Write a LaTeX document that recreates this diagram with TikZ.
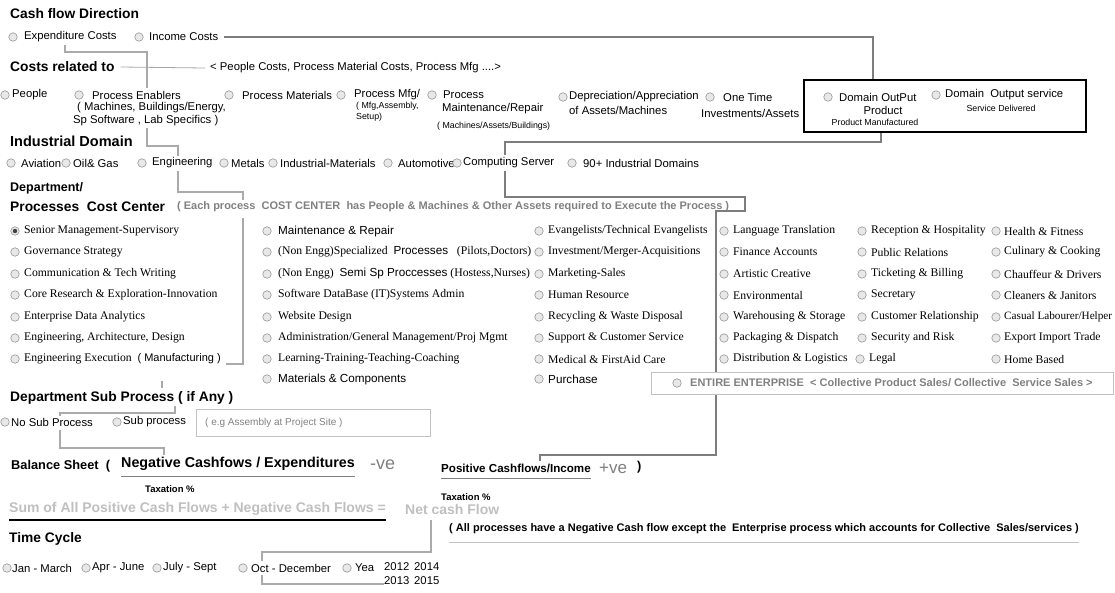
\documentclass[tikz,border=0pt]{standalone}
\usepackage{fontspec}
\setmainfont{Liberation Serif}
\setsansfont{Liberation Sans}
\usepackage{tikz}
\usetikzlibrary{backgrounds}
\definecolor{frmgray}{RGB}{128,128,128}
\definecolor{linkgray}{RGB}{170,170,170}
\definecolor{linkdark}{RGB}{125,125,125}
\definecolor{faintgray}{RGB}{195,195,195}
\definecolor{radiofill}{RGB}{232,232,232}
\definecolor{radioedge}{RGB}{150,150,150}

\begin{document}
\begin{tikzpicture}[x=1pt, y=-1pt,
  hd/.style={font=\sffamily\bfseries\fontsize{13.8}{16}\selectfont, anchor=west, inner sep=0pt},
  lbl/.style={font=\sffamily\fontsize{11.3}{13}\selectfont, anchor=west, inner sep=0pt},
  sub/.style={font=\sffamily\fontsize{8.8}{10}\selectfont, anchor=west, inner sep=0pt},
  dept/.style={font=\rmfamily\fontsize{11.7}{13}\selectfont, anchor=west, inner sep=0pt},
  note/.style={font=\sffamily\bfseries\fontsize{11}{13}\selectfont, text=frmgray, anchor=west, inner sep=0pt},
  radio/.style={circle, draw=radioedge, fill=radiofill, line width=0.6pt, minimum size=8.5pt, inner sep=0pt},
  picked/.style={radio, path picture={\fill[black!75] (path picture bounding box.center) circle (2.2pt);}},
  link/.style={draw=linkgray, line width=2pt},
  darklink/.style={draw=linkdark, line width=2.2pt},
  rulegray/.style={draw=faintgray, line width=0.8pt}]

\useasboundingbox (0,0) rectangle (1115,592);
\clip (0,0) rectangle (1115,592);

% Cash flow direction
\node[hd] (cfd) at (10,14) {Cash flow Direction};
\node[radio] (r-exp) at (13,37) {}; \node[lbl] (exp) at (24,37) {Expenditure Costs};
\node[radio] (r-inc) at (139,37) {}; \node[lbl] (inc) at (149,37) {Income Costs};

% Costs related to
\node[hd] (crt) at (10,67) {Costs related to};
\node[lbl] (pcm) at (210,68) {< People Costs, Process Material Costs, Process Mfg ....>};
\draw[rulegray, draw=frmgray!70] ([xshift=6pt]crt.east) -- ([xshift=-5pt]pcm.west);

\node[radio] (r-ppl) at (5,95) {}; \node[lbl] (ppl) at (12,95) {People};
\node[radio] (r-pe) at (79,95) {}; \node[lbl] (pe) at (92,95) {Process Enablers};
\node[lbl] (pe2) at (77,108) {( Machines, Buildings/Energy,};
\node[lbl] (pe3) at (73,121) {Sp Software , Lab Specifics )};
\node[radio] (r-pm) at (229,95) {}; \node[lbl] (pm) at (242,95) {Process Materials};
\node[radio] (r-mfg) at (341,95) {}; \node[lbl] (mfg) at (354,95) {Process Mfg/};
\node[sub] (mfg2) at (356,106) {( Mfg,Assembly,};
\node[sub] (mfg3) at (356,117) {Setup)};
\node[radio] (r-mr) at (432,95) {}; \node[lbl] (mr) at (443,95) {Process};
\node[lbl] (mr2) at (442,109) {Maintenance/Repair};
\node[sub] (mr3) at (437,126) {( Machines/Assets/Buildings)};
\node[radio] (r-dep) at (563,97) {}; \node[lbl] (dep) at (569,97) {Depreciation/Appreciation};
\node[lbl] (dep2) at (569,110) {of Assets/Machines};
\node[radio] (r-ot) at (710,97) {}; \node[lbl] (ot) at (723,97) {One Time};
\node[lbl] (ot2) at (701,113) {Investments/Assets};

% Domain output box
\node[draw=black, line width=2pt, minimum width=282pt, minimum height=52pt, inner sep=0pt] (dom) at (945,106) {};
\node[radio] (r-dop) at (828,97) {}; \node[lbl] (dop) at (839,97) {Domain OutPut};
\node[lbl, anchor=center] (dop2) at (883,110) {Product};
\node[sub, anchor=center] (dop3) at (875,122) {Product Manufactured};
\node[radio] (r-dos) at (936,95) {}; \node[lbl] (dos) at (945,95) {Domain \ Output service};
\node[sub, anchor=center] (dos2) at (1001,108) {Service Delivered};

% Industrial domain
\node[hd, font=\sffamily\bfseries\fontsize{14.5}{16}\selectfont] (ind) at (10,141) {Industrial Domain};
\node[radio] (r-av) at (11,163) {}; \node[lbl] (av) at (21,163) {Aviation};
\node[radio] (r-og) at (66,163) {}; \node[lbl] (og) at (73,163) {Oil\& Gas};
\node[radio] (r-eng) at (142,163) {}; \node[lbl] (eng) at (152,163) {Engineering};
\node[radio] (r-met) at (224,163) {}; \node[lbl] (met) at (231,163) {Metals};
\node[radio] (r-im) at (273,163) {}; \node[lbl] (im) at (280,163) {Industrial-Materials};
\node[radio] (r-au) at (388,163) {}; \node[lbl] (au) at (398,163) {Automotive};
\node[radio] (r-cs) at (457,163) {}; \node[lbl] (cs) at (463,163) {Computing Server};
\node[radio] (r-90) at (572,163) {}; \node[lbl] (n90) at (583,163) {90+ Industrial Domains};

% Department / cost center
\node[hd, font=\sffamily\bfseries\fontsize{12.5}{14}\selectfont] (dpt) at (10,188) {Department/};
\node[hd] (pcc) at (10,207) {Processes \ Cost Center};
\node[note] (each) at (177,207) {( Each process \ COST CENTER \ has People \& Machines \& Other Assets required to Execute the Process )};

% column 1
\node[picked] (r-c11) at (15,231) {}; \node[dept] (c11) at (24,231) {Senior Management-Supervisory};
\node[radio] (r-c12) at (15,252) {}; \node[dept] (c12) at (24,252) {Governance Strategy};
\node[radio] (r-c13) at (15,274) {}; \node[dept] (c13) at (24,274) {Communication \& Tech Writing};
\node[radio] (r-c14) at (15,295) {}; \node[dept] (c14) at (24,295) {Core Research \& Exploration-Innovation};
\node[radio] (r-c15) at (15,317) {}; \node[dept] (c15) at (24,317) {Enterprise Data Analytics};
\node[radio] (r-c16) at (15,338) {}; \node[dept] (c16) at (24,338) {Engineering, Architecture, Design};
\node[radio] (r-c17) at (15,359) {}; \node[dept] (c17) at (24,359) {Engineering Execution \ \textsf{\fontsize{11}{13}\selectfont( Manufacturing )}};

% column 2
\node[radio] (r-c21) at (267,231) {}; \node[dept] (c21) at (278,231) {\textsf{Maintenance \& Repair}};
\node[radio] (r-c22) at (267,252) {}; \node[dept] (c22) at (278,252) {(Non Engg)Specialized \ \textsf{Processes} \ \ (Pilots,Doctors)};
\node[radio] (r-c23) at (267,274) {}; \node[dept] (c23) at (278,274) {(Non Engg) \ \textsf{Semi Sp Proccesses} (Hostess,Nurses)};
\node[radio] (r-c24) at (267,295) {}; \node[dept] (c24) at (278,295) {Software DataBase (IT)Systems Admin};
\node[radio] (r-c25) at (267,317) {}; \node[dept] (c25) at (278,317) {Website Design};
\node[radio] (r-c26) at (267,338) {}; \node[dept] (c26) at (278,338) {Administration/General Management/Proj Mgmt};
\node[radio] (r-c27) at (267,359) {}; \node[dept] (c27) at (278,359) {Learning-Training-Teaching-Coaching};
\node[radio] (r-c28) at (267,379) {}; \node[dept] (c28) at (278,379) {\textsf{Materials \& Components}};

% column 3
\node[radio] (r-c31) at (539,231) {}; \node[dept] (c31) at (548,231) {Evangelists/Technical Evangelists};
\node[radio] (r-c32) at (539,252) {}; \node[dept] (c32) at (548,252) {Investment/Merger-Acquisitions};
\node[radio] (r-c33) at (539,274) {}; \node[dept] (c33) at (548,274) {Marketing-Sales};
\node[radio] (r-c34) at (539,295) {}; \node[dept] (c34) at (548,295) {Human Resource};
\node[radio] (r-c35) at (539,317) {}; \node[dept] (c35) at (548,317) {Recycling \& Waste Disposal};
\node[radio] (r-c36) at (539,338) {}; \node[dept] (c36) at (548,338) {Support \& Customer Service};
\node[radio] (r-c37) at (539,359) {}; \node[dept] (c37) at (548,359) {Medical \& FirstAid Care};
\node[radio] (r-c38) at (539,379) {}; \node[dept] (c38) at (548,379) {\textsf{Purchase}};

% column 4
\node[radio] (r-c41) at (724,231) {}; \node[dept] (c41) at (733,231) {Language Translation};
\node[radio] (r-c42) at (724,252) {}; \node[dept] (c42) at (733,252) {Finance Accounts};
\node[radio] (r-c43) at (724,274) {}; \node[dept] (c43) at (733,274) {Artistic Creative};
\node[radio] (r-c44) at (724,295) {}; \node[dept] (c44) at (733,295) {Environmental};
\node[radio] (r-c45) at (724,317) {}; \node[dept] (c45) at (733,317) {Warehousing \& Storage};
\node[radio] (r-c46) at (724,338) {}; \node[dept] (c46) at (733,338) {Packaging \& Dispatch};
\node[radio] (r-c47) at (724,359) {}; \node[dept] (c47) at (733,359) {Distribution \& Logistics};

% column 5
\node[radio] (r-c51) at (862,231) {}; \node[dept] (c51) at (871,231) {Reception \& Hospitality};
\node[radio] (r-c52) at (862,252) {}; \node[dept] (c52) at (871,252) {Public Relations};
\node[radio] (r-c53) at (862,274) {}; \node[dept] (c53) at (871,274) {Ticketing \& Billing};
\node[radio] (r-c54) at (862,295) {}; \node[dept] (c54) at (871,295) {Secretary};
\node[radio] (r-c55) at (862,317) {}; \node[dept] (c55) at (871,317) {Customer Relationship};
\node[radio] (r-c56) at (862,338) {}; \node[dept] (c56) at (871,338) {Security and Risk};
\node[radio] (r-c57) at (860,359) {}; \node[dept] (c57) at (869,359) {Legal};

% column 6
\node[radio] (r-c61) at (996,231) {}; \node[dept] (c61) at (1004,231) {Health \& Fitness};
\node[radio] (r-c62) at (996,252) {}; \node[dept] (c62) at (1004,252) {Culinary \& Cooking};
\node[radio] (r-c63) at (996,274) {}; \node[dept] (c63) at (1004,274) {Chauffeur \& Drivers};
\node[radio] (r-c64) at (996,295) {}; \node[dept] (c64) at (1004,295) {Cleaners \& Janitors};
\node[radio] (r-c65) at (996,317) {}; \node[dept, font=\rmfamily\fontsize{11.2}{13}\selectfont] (c65) at (1004,317) {Casual Labourer/Helper};
\node[radio] (r-c66) at (996,338) {}; \node[dept] (c66) at (1004,338) {Export Import Trade};
\node[radio] (r-c67) at (996,359) {}; \node[dept] (c67) at (1004,359) {Home Based};

% entire enterprise
\node[draw=faintgray, fill=white, line width=0.8pt, minimum width=462pt, minimum height=22pt, inner sep=0pt] (ent) at (882,383) {};
\node[radio] (r-ent) at (677,383) {}; \node[note] (ent1) at (690,383) {ENTIRE ENTERPRISE};
\node[note] (ent2) at (810,383) {< Collective Product Sales/ Collective \ Service Sales >};

% sub process
\node[hd] (dsp) at (10,398) {Department Sub Process ( if Any )};
\node[radio] (r-nsp) at (5,422) {}; \node[lbl] (nsp) at (11,422) {No Sub Process};
\node[radio] (r-sp) at (117,422) {}; \node[lbl] (sp) at (123,422) {Sub process};
\node[draw=faintgray, line width=0.8pt, minimum width=234pt, minimum height=27pt, inner sep=0pt] (site) at (313,423) {};
\node[lbl, text=frmgray, font=\sffamily\fontsize{10}{12}\selectfont] (site1) at (205,423) {( e.g Assembly at Project Site )};

% balance sheet
\node[hd, font=\sffamily\bfseries\fontsize{12.8}{15}\selectfont] (bs) at (11,466) {Balance Sheet \ (};
\node[hd, font=\sffamily\bfseries\fontsize{14.3}{16}\selectfont] (neg) at (121,464) {Negative Cashfows / Expenditures};
\node[lbl, text=frmgray, font=\sffamily\fontsize{18}{20}\selectfont] (negve) at (370,465) {-ve};
\node[hd, font=\sffamily\bfseries\fontsize{11.6}{14}\selectfont] (pos) at (441,468) {Positive Cashflows/Income};
\node[lbl, text=frmgray, font=\sffamily\fontsize{17}{19}\selectfont] (posve) at (599,469) {+ve};
\node[hd, font=\sffamily\bfseries\fontsize{12.8}{15}\selectfont] (posp) at (637,467) {)};
\draw[rulegray, draw=frmgray] ([yshift=-5pt]neg.south west) -- ([yshift=-5pt]neg.south east);
\draw[rulegray, draw=frmgray] ([yshift=-6pt]pos.south west) -- ([yshift=-6pt]pos.south east);
\node[hd, font=\sffamily\bfseries\fontsize{9.5}{11}\selectfont] (tax1) at (145,489) {Taxation \%};
\node[hd, font=\sffamily\bfseries\fontsize{9.5}{11}\selectfont] (tax2) at (441,497) {Taxation \%};
\node[hd, font=\sffamily\bfseries\fontsize{14}{16}\selectfont, text=black!25] (sum) at (9,509) {Sum of All Positive Cash Flows + Negative Cash Flows =};
\node[hd, font=\sffamily\bfseries\fontsize{14}{16}\selectfont, text=black!25] (net) at (405,509) {Net cash Flow};
\draw[line width=2.5pt] ([yshift=-4pt]sum.south west) -- ([yshift=-4pt]sum.south east);
\node[hd, font=\sffamily\bfseries\fontsize{11}{13}\selectfont] (allp) at (449,529) {( All processes have a Negative Cash flow except the \ Enterprise process which accounts for Collective \ Sales/services )};
\draw[rulegray] ([yshift=-8pt]allp.south west) -- ([yshift=-8pt]allp.south east);

% time cycle
\node[hd] (tc) at (9,539) {Time Cycle};
\node[radio] (r-jm) at (7,568) {}; \node[lbl] (jm) at (12,568) {Jan - March};
\node[radio] (r-aj) at (86,568) {}; \node[lbl] (aj) at (92,568) {Apr - June};
\node[radio] (r-js) at (157,568) {}; \node[lbl] (js) at (163,568) {July - Sept};
\node[radio] (r-od) at (243,568) {}; \node[lbl] (od) at (251,568) {Oct - December};
\node[radio] (r-yr) at (347,568) {}; \node[lbl] (yr) at (355,568) {Yea};
\node[lbl] (y12) at (384,567) {2012}; \node[lbl] (y14) at (414,567) {2014};
\node[lbl] (y13) at (384,581) {2013}; \node[lbl] (y15) at (414,581) {2015};

% connector ends
\coordinate (exp-b) at (65,45);  \coordinate (pe-t) at (147,88);
\coordinate (lab-b) at (147,128); \coordinate (eng-t) at (178,156);
\coordinate (eng-b) at (178,171); \coordinate (each-t) at (243,200);
\coordinate (dom-t) at (873,80);  \coordinate (dom-b) at (881,132);
\coordinate (cs-t) at (505,155);  \coordinate (cs-b) at (505,171);
\coordinate (pos-t) at (540,461);
\coordinate (c1-t) at (243,218); \coordinate (c1-b) at (226,364);
\coordinate (tick-t) at (162,381); \coordinate (tick-b) at (162,388);
\coordinate (dsp-b) at (175,406); \coordinate (nsp-t) at (60,416);
\coordinate (nsp-b) at (60,430); \coordinate (neg-t) at (164,455);
\coordinate (net-b) at (431,520); \coordinate (od-t) at (262,561);
\coordinate (od-b) at (262,575);

% connectors
\begin{scope}[on background layer]
\draw[link] (exp-b) -- ++(0,7) -| (pe-t);
\draw[link] (lab-b) -- ++(0,18) -| (eng-t);
\draw[link] (eng-b) -- ++(0,21) -| (each-t);
\draw[darklink] ([xshift=6pt]inc.east) -| (dom-t);
\draw[darklink] (dom-b) -- ++(0,10) -| (cs-t);
\draw[darklink] (cs-b) |- (745,197) |- (716,211) -- (716,455) -| (pos-t);
\draw[link, line width=1.6pt] (c1-t) |- (c1-b);
\draw[link, line width=1.4pt] (tick-t) -- (tick-b);
\draw[link] (dsp-b) -- ++(0,7) -| (nsp-t);
\draw[link] (nsp-b) -- ++(0,18) -| (neg-t);
\draw[link] (net-b) -- ++(0,32) -| (od-t);
\draw[link] (od-b) |- ([yshift=-3pt]y13.west);
\end{scope}

\end{tikzpicture}
\end{document}
